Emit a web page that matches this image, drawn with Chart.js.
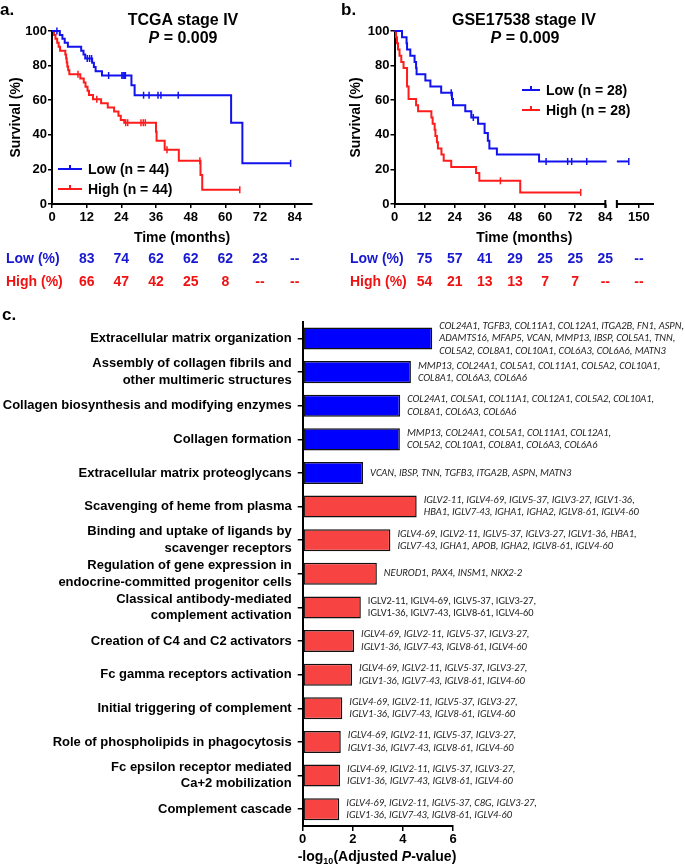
<!DOCTYPE html>
<html>
<head>
<meta charset="utf-8">
<script src="https://cdn.jsdelivr.net/npm/chart.js@4.4.1/dist/chart.umd.min.js"></script>
<style>
  body { margin: 0; background: #fff; }
  #fig { position: relative; width: 685px; height: 864px; font-family: "Liberation Sans", Arial, sans-serif; color: #000; }
  .box { position: absolute; }
  .t { position: absolute; font-weight: bold; white-space: nowrap; transform: translate(-50%, -50%); }
  .letter { position: absolute; font-weight: bold; font-size: 17px; line-height: 17px; }
</style>
</head>
<body>
<div id="fig">
  <div class="box" style="left:0;top:0;width:340px;height:300px"><canvas id="kmA"></canvas></div>
  <div class="box" style="left:340px;top:0;width:345px;height:300px"><canvas id="kmB"></canvas></div>
  <div class="box" style="left:0;top:300px;width:685px;height:564px"><canvas id="enrich"></canvas></div>

  <div class="letter" style="left:0;top:1px">a.</div>
  <div class="letter" style="left:341px;top:1px">b.</div>
  <div class="letter" style="left:2px;top:306px">c.</div>

  <div class="t" style="left:183px;top:20px;font-size:16px">TCGA stage IV</div>
  <div class="t" style="left:183px;top:38px;font-size:16px"><i>P</i> = 0.009</div>
  <div class="t" style="left:524px;top:20px;font-size:16px">GSE17538 stage IV</div>
  <div class="t" style="left:525px;top:38px;font-size:16px"><i>P</i> = 0.009</div>
  <div class="t" style="left:377px;top:857px;font-size:14px">-log<sub style="font-size:9px">10</sub>(Adjusted <i>P</i>-value)</div>
</div>

<script>
// ---- panel a / b : Kaplan-Meier curves ----
const monthTicks = [0, 12, 24, 36, 48, 60, 72, 84];
const monthTicksB = [0, 12, 24, 36, 48, 60, 72, 84, 150];

// TCGA stage IV (time in months, survival % after each step)
const tcgaLowT = [0, 2.7, 3.6, 4.4, 5.5, 10.1, 10.9, 11.5, 13.9, 14.5, 15.1, 17.3, 27.5, 28.6, 62.0, 65.9, 82.6];
const tcgaLowS = [100, 97.7, 95.5, 93.2, 90.9, 88.6, 86.4, 84.1, 81.7, 79.2, 76.8, 74.3, 68.6, 62.9, 47.0, 23.5, 23.5];
const tcgaLowCens = [1.7, 12.2, 13.0, 13.7, 19.6, 24.2, 24.6, 25.0, 25.4, 31.7, 33.6, 36.7, 37.7, 43.7, 82.6];

const tcgaHighT = [0, 0.7, 1.2, 1.8, 2.3, 2.8, 4.6, 4.9, 5.1, 5.3, 5.6, 6.0, 9.8, 11.0, 11.6, 12.3, 12.8, 14.2, 17.0, 19.3, 21.5, 23.0, 23.8, 25.0, 36.0, 36.2, 39.0, 43.9, 51.4, 52.0, 65.0];
const tcgaHighS = [100, 97.7, 95.5, 93.2, 90.9, 88.6, 86.4, 84.1, 81.8, 79.5, 77.3, 75.0, 72.6, 70.2, 67.8, 65.4, 63.0, 60.6, 58.2, 55.8, 53.4, 51.0, 48.6, 47.0, 41.8, 36.6, 31.3, 25.0, 16.7, 8.3, 8.3];
const tcgaHighCens = [9.0, 15.5, 25.5, 26.2, 30.8, 31.6, 32.3, 39.8, 51.2, 65.0];

// GSE17538 stage IV
const gseLowT = [0, 3.0, 4.8, 5.0, 6.3, 8.0, 8.6, 8.8, 12.3, 14.3, 18.6, 22.9, 23.3, 28.2, 30.6, 33.3, 35.9, 37.2, 37.8, 40.8, 57.6, 84.5];
const gseLowS = [100, 96.4, 92.9, 89.3, 85.7, 82.1, 78.6, 75.0, 71.4, 67.9, 64.3, 60.7, 57.1, 53.6, 50.0, 46.4, 41.1, 36.6, 32.1, 28.6, 24.6, 24.6];
const gseLowCens = [22.6, 31.4, 60.4, 69.0, 70.6, 76.6];
const gseLowLateT = [100, 127];      // after the axis break
const gseLowLateCens = [127];

const gseHighT = [0, 0.6, 1.0, 1.4, 2.0, 2.7, 3.6, 5.0, 5.6, 8.6, 9.4, 14.7, 15.2, 16.0, 16.3, 16.9, 17.3, 18.7, 19.6, 22.6, 32.5, 33.8, 50.1, 74.2];
const gseHighS = [100, 96.4, 92.9, 89.3, 85.7, 82.1, 78.6, 67.9, 60.7, 57.1, 53.6, 50.0, 46.4, 42.9, 39.3, 35.7, 32.1, 28.6, 25.0, 21.4, 17.9, 13.4, 6.7, 6.7];
const gseHighCens = [42.2, 74.2];

// survival tables under the plots
const tcgaLowPct = ['83', '74', '62', '62', '62', '23', '--'];
const tcgaHighPct = ['66', '47', '42', '25', '8', '--', '--'];
const gseLowPct = ['75', '57', '41', '29', '25', '25', '25', '--'];
const gseHighPct = ['54', '21', '13', '13', '7', '7', '--', '--'];

// ---- panel c : pathway enrichment ----
const pathways = [
  'Extracellular matrix organization',
  ['Assembly of collagen fibrils and', 'other multimeric structures'],
  'Collagen biosynthesis and modifying enzymes',
  'Collagen formation',
  'Extracellular matrix proteoglycans',
  'Scavenging of heme from plasma',
  ['Binding and uptake of ligands by', 'scavenger receptors'],
  ['Regulation of gene expression in', 'endocrine-committed progenitor cells'],
  ['Classical antibody-mediated', 'complement activation'],
  'Creation of C4 and C2 activators',
  'Fc gamma receptors activation',
  'Initial triggering of complement',
  'Role of phospholipids in phagocytosis',
  ['Fc epsilon receptor mediated', 'Ca+2 mobilization'],
  'Complement cascade'
];
const negLogP = [5.17, 4.32, 3.89, 3.88, 2.41, 4.55, 3.50, 2.96, 2.32, 2.05, 1.97, 1.58, 1.52, 1.49, 1.46];
const pathwayGroup = ['up', 'up', 'up', 'up', 'up', 'down', 'down', 'down', 'down', 'down', 'down', 'down', 'down', 'down', 'down'];
const IGLV8 = ['IGLV4-69, IGLV2-11, IGLV5-37, IGLV3-27,', 'IGLV1-36, IGLV7-43, IGLV8-61, IGLV4-60'];
const pathwayGenes = [
  ['COL24A1, TGFB3, COL11A1, COL12A1, ITGA2B, FN1, ASPN,', 'ADAMTS16, MFAP5, VCAN, MMP13, IBSP, COL5A1, TNN,', 'COL5A2, COL8A1, COL10A1, COL6A3, COL6A6, MATN3'],
  ['MMP13, COL24A1, COL5A1, COL11A1, COL5A2, COL10A1,', 'COL8A1, COL6A3, COL6A6'],
  ['COL24A1, COL5A1, COL11A1, COL12A1, COL5A2, COL10A1,', 'COL8A1, COL6A3, COL6A6'],
  ['MMP13, COL24A1, COL5A1, COL11A1, COL12A1,', 'COL5A2, COL10A1, COL8A1, COL6A3, COL6A6'],
  ['VCAN, IBSP, TNN, TGFB3, ITGA2B, ASPN, MATN3'],
  ['IGLV2-11, IGLV4-69, IGLV5-37, IGLV3-27, IGLV1-36,', 'HBA1, IGLV7-43, IGHA1, IGHA2, IGLV8-61, IGLV4-60'],
  ['IGLV4-69, IGLV2-11, IGLV5-37, IGLV3-27, IGLV1-36, HBA1,', 'IGLV7-43, IGHA1, APOB, IGHA2, IGLV8-61, IGLV4-60'],
  ['NEUROD1, PAX4, INSM1, NKX2-2'],
  ['IGLV2-11, IGLV4-69, IGLV5-37, IGLV3-27,', 'IGLV1-36, IGLV7-43, IGLV8-61, IGLV4-60'],
  IGLV8, IGLV8, IGLV8, IGLV8, IGLV8,
  ['IGLV4-69, IGLV2-11, IGLV5-37, C8G, IGLV3-27,', 'IGLV1-36, IGLV7-43, IGLV8-61, IGLV4-60']
];
const uprightGenes = [8];   // this row is not italic in the figure

// ---------------------------------------------------------------
Chart.defaults.animation = false;
Chart.defaults.font.family = '"Liberation Sans", Arial, sans-serif';
Chart.defaults.color = '#000';

const BLUE = '#1212ee';
const RED = '#ff1c1c';
const BLUE_TXT = '#1818d0';
const RED_TXT = '#f01212';
const FONT = '"Liberation Sans", Arial, sans-serif';

// survival at a given time
function survAt(T, S, t) {
  let s = S[0];
  for (let i = 0; i < T.length; i++) if (T[i] <= t) s = S[i];
  return s;
}

// broken time axis of panel b
function axisB(t) {
  return t <= 84.5 ? t : 88.6 + (t - 100) * 0.176;
}

function curve(T, S, color, map) {
  map = map || (v => v);
  return {
    data: T.map((t, i) => ({ x: map(t), y: S[i] })),
    borderColor: color, borderWidth: 2, stepped: 'before',
    pointRadius: 0, fill: false, clip: false
  };
}

function censors(times, T, S, color, map) {
  map = map || (v => v);
  return {
    data: times.map(t => ({ x: map(t), y: survAt(T, S, t) })),
    showLine: false, pointStyle: 'line', rotation: 90,
    pointRadius: 3.5, pointBorderWidth: 1.5, pointBorderColor: color,
    clip: false
  };
}

function kmDecor(o) {
  return {
    id: 'kmDecor',
    afterDraw(chart) {
      const { ctx, chartArea: a } = chart;
      const x = chart.scales.x;
      ctx.save();
      ctx.textBaseline = 'middle';

      ctx.font = 'bold 14px ' + FONT;
      ctx.fillStyle = '#000';
      ctx.textAlign = 'center';
      ctx.fillText('Time (months)', (a.left + a.right) / 2, 238);

      // table rows
      const rows = [['Low (%)', o.low, BLUE_TXT, 259], ['High (%)', o.high, RED_TXT, 282]];
      rows.forEach(([lab, vals, col, y]) => {
        ctx.fillStyle = col;
        ctx.textAlign = 'left';
        ctx.fillText(lab, o.rowX, y);
        ctx.textAlign = 'center';
        vals.forEach((v, i) => ctx.fillText(v, x.getPixelForValue(o.map(o.ticks[i + 1])), y));
      });

      // legend
      const leg = [[o.legLow, BLUE, o.legY[0]], [o.legHigh, RED, o.legY[1]]];
      leg.forEach(([txt, col, y]) => {
        ctx.strokeStyle = col;
        ctx.lineWidth = 2;
        ctx.beginPath();
        ctx.moveTo(o.legX, y); ctx.lineTo(o.legX + o.legW, y);
        ctx.moveTo(o.legX + o.legW / 2, y); ctx.lineTo(o.legX + o.legW / 2, y - 4);
        ctx.stroke();
        ctx.fillStyle = '#000';
        ctx.textAlign = 'left';
        ctx.font = 'bold 14px ' + FONT;
        ctx.fillText(txt, o.legX + o.legW + 6, y + 1);
      });

      // broken x axis (panel b)
      if (o.broken) {
        const y0 = a.bottom;
        ctx.strokeStyle = '#000';
        ctx.lineWidth = 2;
        const p0 = x.getPixelForValue(0), p84 = x.getPixelForValue(84);
        const pb = x.getPixelForValue(88.6), pe = a.right;
        ctx.beginPath();
        ctx.moveTo(p0, y0); ctx.lineTo(p84, y0);
        ctx.moveTo(pb, y0); ctx.lineTo(pe, y0);
        ctx.moveTo(p84, y0 - 4); ctx.lineTo(p84, y0 + 4);
        ctx.moveTo(pb, y0 - 4); ctx.lineTo(pb, y0 + 4);
        ctx.stroke();
      }
      ctx.restore();
    }
  };
}

function kmScales(o) {
  return {
    x: {
      type: 'linear', min: 0, max: o.xMax,
      afterBuildTicks: s => { s.ticks = o.ticks.map(v => ({ value: o.map(v) })); },
      ticks: {
        font: { size: 13, weight: 'bold' }, color: '#000', padding: 2,
        maxRotation: 0, autoSkip: false,
        callback: (v, i) => String(o.ticks[i])
      },
      grid: { drawOnChartArea: false, drawTicks: true, tickLength: 4, color: '#000', lineWidth: 1.5 },
      border: { display: !o.broken, color: '#000', width: 2 },
      afterFit: s => { s.height = o.h - o.bottom; }
    },
    y: {
      min: 0, max: 100,
      ticks: { stepSize: 20, font: { size: 13, weight: 'bold' }, color: '#000', padding: 1 },
      grid: { drawOnChartArea: false, drawTicks: true, tickLength: 4, color: '#000', lineWidth: 1.5 },
      border: { color: '#000', width: 2 },
      title: { display: true, text: 'Survival (%)', font: { size: 14, weight: 'bold' }, color: '#000', padding: { top: 8, bottom: 0 } },
      afterFit: s => { s.width = o.left; }
    }
  };
}

// panel a
const optA = {
  ticks: monthTicks, map: v => v, xMax: 90, h: 300, bottom: 204, left: 52,
  low: tcgaLowPct, high: tcgaHighPct, rowX: 6,
  legLow: 'Low (n = 44)', legHigh: 'High (n = 44)', legX: 58, legW: 24, legY: [169, 189]
};
new Chart(document.getElementById('kmA'), {
  type: 'line',
  data: {
    datasets: [
      curve(tcgaLowT, tcgaLowS, BLUE),
      censors(tcgaLowCens, tcgaLowT, tcgaLowS, BLUE),
      curve(tcgaHighT, tcgaHighS, RED),
      censors(tcgaHighCens, tcgaHighT, tcgaHighS, RED)
    ]
  },
  options: {
    responsive: true, maintainAspectRatio: false,
    layout: { padding: { top: 31, right: 28, left: 0, bottom: 0 } },
    plugins: { legend: { display: false }, tooltip: { enabled: false } },
    scales: kmScales(optA)
  },
  plugins: [kmDecor(optA)]
});

// panel b
const optB = {
  ticks: monthTicksB, map: axisB, xMax: 103.4, h: 300, bottom: 204, left: 54.5, broken: true,
  low: gseLowPct, high: gseHighPct, rowX: 10,
  legLow: 'Low (n = 28)', legHigh: 'High (n = 28)', legX: 182, legW: 18, legY: [90, 110]
};
new Chart(document.getElementById('kmB'), {
  type: 'line',
  data: {
    datasets: [
      curve(gseLowT, gseLowS, BLUE, axisB),
      censors(gseLowCens, gseLowT, gseLowS, BLUE, axisB),
      curve(gseLowLateT, gseLowLateT.map(t => survAt(gseLowT, gseLowS, t)), BLUE, axisB),
      censors(gseLowLateCens, gseLowT, gseLowS, BLUE, axisB),
      curve(gseHighT, gseHighS, RED, axisB),
      censors(gseHighCens, gseHighT, gseHighS, RED, axisB)
    ]
  },
  options: {
    responsive: true, maintainAspectRatio: false,
    layout: { padding: { top: 31, right: 31, left: 0, bottom: 0 } },
    plugins: { legend: { display: false }, tooltip: { enabled: false } },
    scales: kmScales(optB)
  },
  plugins: [kmDecor(optB)]
});

// panel c
const geneLabels = {
  id: 'geneLabels',
  afterDatasetsDraw(chart) {
    const { ctx } = chart;
    const bars = chart.getDatasetMeta(0).data;
    ctx.save();
    // size the gene font so the longest first line matches the figure width
    ctx.font = 'italic 10px Carlito, Lato, "Liberation Sans", sans-serif';
    const w = ctx.measureText(pathwayGenes[0][0]).width;
    const size = 10 * 245 / w;
    const lh = 12.4;
    ctx.fillStyle = '#222';
    ctx.textAlign = 'left';
    ctx.textBaseline = 'middle';
    bars.forEach((b, i) => {
      const lines = pathwayGenes[i];
      const style = uprightGenes.includes(i) ? '' : 'italic ';
      ctx.font = style + size.toFixed(2) + 'px Carlito, Lato, "Liberation Sans", sans-serif';
      const y0 = b.y - (lines.length - 1) * lh / 2;
      lines.forEach((ln, k) => ctx.fillText(ln, b.x + 7, y0 + k * lh));
    });
    ctx.restore();
  }
};

new Chart(document.getElementById('enrich'), {
  type: 'bar',
  data: {
    labels: pathways,
    datasets: [{
      data: negLogP,
      backgroundColor: pathwayGroup.map(g => g === 'up' ? '#0000fe' : '#f84343'),
      borderColor: '#111', borderWidth: 1.5, borderSkipped: false,
      barPercentage: 0.655, categoryPercentage: 1
    }]
  },
  options: {
    indexAxis: 'y',
    responsive: true, maintainAspectRatio: false,
    layout: { padding: { top: 21.7, right: 232, left: 0, bottom: 0 } },
    plugins: { legend: { display: false }, tooltip: { enabled: false } },
    scales: {
      x: {
        min: 0, max: 6,
        ticks: { stepSize: 2, font: { size: 13, weight: 'bold' }, color: '#000', padding: 1 },
        grid: { drawOnChartArea: false, drawTicks: true, tickLength: 5, color: '#000', lineWidth: 1.5 },
        border: { color: '#000', width: 2 },
        afterFit: s => { s.height = 38; }
      },
      y: {
        ticks: { font: { size: 13, weight: 'bold', lineHeight: 1.28 }, color: '#000', padding: 6, autoSkip: false },
        grid: { drawOnChartArea: false, drawTicks: true, tickLength: 5, color: '#000', lineWidth: 1.5, offset: false },
        border: { color: '#000', width: 2 },
        afterFit: s => { s.width = 302.7; }
      }
    }
  },
  plugins: [geneLabels]
});
</script>
</body>
</html>
